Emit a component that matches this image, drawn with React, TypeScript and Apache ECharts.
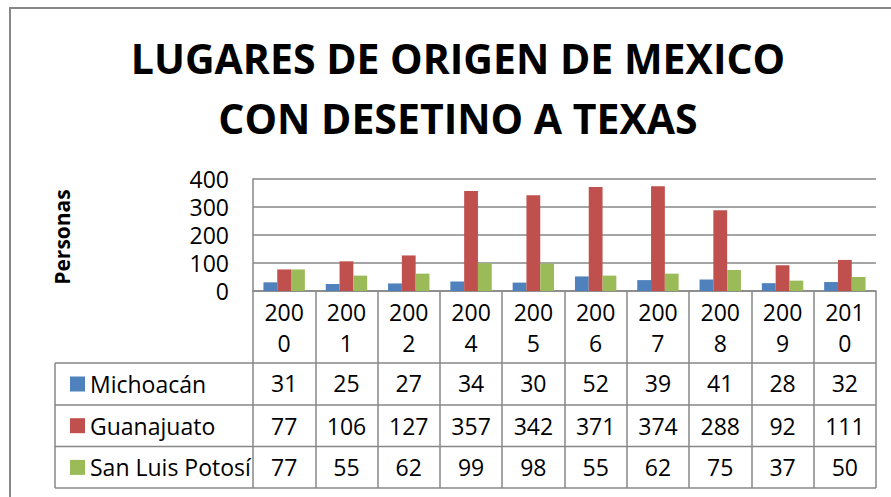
import React, { useEffect, useRef } from "react";
import * as echarts from "echarts";

const titleText = "LUGARES DE ORIGEN DE MEXICO\nCON DESETINO A TEXAS";
const yAxisName = "Personas";
const years = ["2000", "2001", "2002", "2004", "2005", "2006", "2007", "2008", "2009", "2010"];
const seriesNames = ["Michoacán", "Guanajuato", "San Luis Potosí"];
const michoacan = [31, 25, 27, 34, 30, 52, 39, 41, 28, 32];
const guanajuato = [77, 106, 127, 357, 342, 371, 374, 288, 92, 111];
const sanLuisPotosi = [77, 55, 62, 99, 98, 55, 62, 75, 37, 50];
const colors = ["#4F81BD", "#C0504D", "#9BBB59"];
const yTicks = { min: 0, max: 400, interval: 100 };

const FONT = "'Open Sans', 'Noto Sans', sans-serif";
const GRAY = "#878787";

export default function App() {
  const ref = useRef<HTMLDivElement>(null);
  useEffect(() => {
    if (!ref.current) return;
    const chart = echarts.init(ref.current, null, { renderer: "svg" });
    const gridLeft = 253;
    const gridRight = 876;
    const gridTop = 179;
    const gridBottomY = 291;
    const rows = [michoacan, guanajuato, sanLuisPotosi];
    const rowOffsets = [92, 135, 176];
    const tableLineYs = [363, 405, 446.5, 488];

    const valueAxes = rows.map((vals, i) => ({
      type: "category",
      gridIndex: 0,
      position: "bottom",
      offset: rowOffsets[i],
      data: vals.map((v) => String(v)),
      axisLine: { show: false },
      axisTick: { show: false },
      splitLine: { show: false },
      axisLabel: {
        interval: 0,
        margin: 0,
        verticalAlign: "middle",
        fontSize: 23,
        lineHeight: 23,
        fontFamily: FONT,
        color: "#000",
      },
    }));

    const graphics: any[] = [
      { type: "line", shape: { x1: 9, y1: 8, x2: 891, y2: 8 }, style: { stroke: GRAY, lineWidth: 2 } },
      { type: "line", shape: { x1: 10, y1: 8, x2: 10, y2: 497 }, style: { stroke: GRAY, lineWidth: 2 } },
      ...tableLineYs.map((y) => ({
        type: "line",
        shape: { x1: 55, y1: y, x2: gridRight, y2: y },
        style: { stroke: GRAY, lineWidth: 1.5 },
      })),
      { type: "line", shape: { x1: 55, y1: 363, x2: 55, y2: 488 }, style: { stroke: GRAY, lineWidth: 1.5 } },
      {
        type: "text",
        x: 458,
        y: 88,
        style: {
          text: titleText,
          align: "center",
          verticalAlign: "middle",
          fontSize: 41,
          fontWeight: "bold",
          fontFamily: FONT,
          lineHeight: 60,
          fill: "#000",
        },
      },
      {
        type: "text",
        x: 62,
        y: 237,
        rotation: Math.PI / 2,
        style: {
          text: yAxisName,
          align: "center",
          verticalAlign: "middle",
          fontSize: 21,
          fontWeight: "bold",
          fontFamily: FONT,
          fill: "#000",
        },
      },
    ];

    chart.setOption({
      animation: false,
      grid: {
        left: gridLeft,
        top: gridTop,
        width: gridRight - gridLeft,
        height: gridBottomY - gridTop,
        containLabel: false,
      },
      legend: {
        orient: "vertical",
        left: 65,
        top: 367.5,
        itemWidth: 15,
        itemHeight: 15,
        itemGap: 18.7,
        icon: "rect",
        selectedMode: false,
        data: seriesNames,
        textStyle: { fontSize: 23, lineHeight: 23, fontFamily: FONT, color: "#000" },
      },
      xAxis: [
        {
          type: "category",
          gridIndex: 0,
          data: years,
          axisLine: { show: true, lineStyle: { color: GRAY, width: 1.5 } },
          axisTick: {
            show: true,
            interval: 0,
            length: 197,
            lineStyle: { color: GRAY, width: 1.5 },
          },
          axisLabel: {
            interval: 0,
            margin: 36,
            verticalAlign: "middle",
            lineHeight: 31,
            fontSize: 23,
            fontFamily: FONT,
            color: "#000",
            formatter: (v: string) => v.slice(0, 3) + "\n" + v.slice(3),
          },
        },
        ...valueAxes,
      ],
      yAxis: {
        type: "value",
        min: yTicks.min,
        max: yTicks.max,
        interval: yTicks.interval,
        axisLine: { show: true, lineStyle: { color: GRAY, width: 1.5 } },
        axisTick: { show: false },
        splitLine: { show: true, lineStyle: { color: GRAY, width: 1.5 } },
        axisLabel: { margin: 24, fontSize: 23, lineHeight: 22, fontFamily: FONT, color: "#000" },
      },
      series: rows.map((vals, i) => ({
        type: "bar",
        name: seriesNames[i],
        data: vals,
        barWidth: 13.8,
        barGap: "0%",
        itemStyle: { color: colors[i] },
      })),
      graphic: graphics,
    });
    return () => chart.dispose();
  }, []);
  return (
    <div
      ref={ref}
      style={{ position: "absolute", left: 0, top: 0, width: 891, height: 497, background: "#fff" }}
    />
  );
}
